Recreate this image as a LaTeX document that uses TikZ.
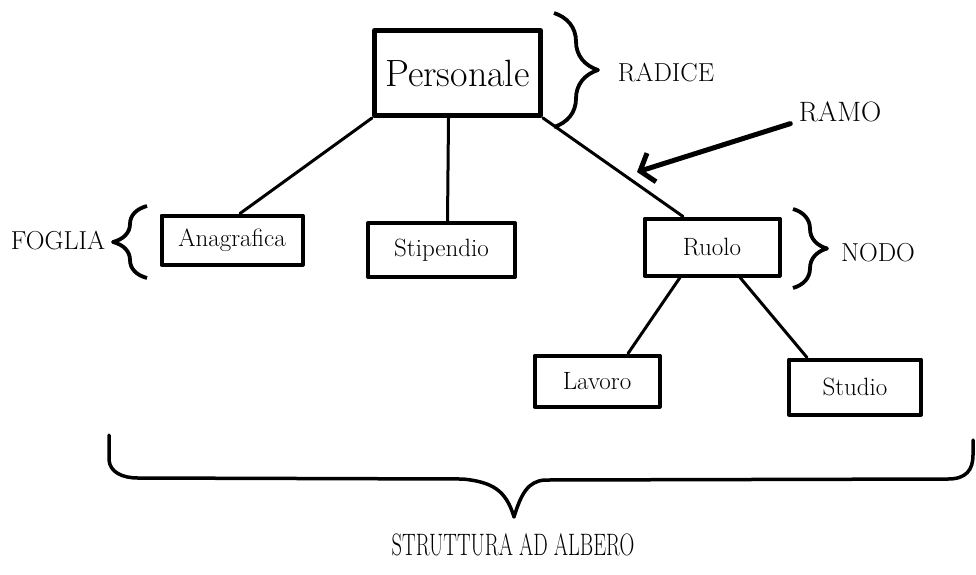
\documentclass[tikz,border=0pt]{standalone}
\usepackage{tikz}
\usetikzlibrary{arrows.meta,positioning,calc,decorations.pathreplacing}

\begin{document}
\begin{tikzpicture}[x=1pt, y=-1pt, line width=3pt, line join=round, line cap=round]
\tikzstyle{box}=[draw=black, line width=4pt, fill=white, inner sep=0pt, font=\fontsize{25}{30}\selectfont]
\tikzstyle{tag}=[inner sep=0pt, font=\fontsize{26}{31}\selectfont]
\tikzstyle{curly}=[decorate, line width=3.8pt, line cap=butt]
\useasboundingbox (0,0) rectangle (976,574);
% nodi dell'albero
\node[box, line width=5pt, minimum width=166pt, minimum height=85pt, font=\fontsize{38}{45}\selectfont] (pers) at (457.5,73) {Personale};
\node[box, minimum width=141pt, minimum height=49pt]  (anag)   at (232,240) {Anagrafica};
\node[box, minimum width=147pt, minimum height=54pt]  (stip)   at (441.5,250) {Stipendio};
\node[box, minimum width=135pt, minimum height=57pt]  (ruolo)  at (712,247) {Ruolo};
\node[box, minimum width=125pt, minimum height=51pt]  (lavoro) at (597,381) {Lavoro};
\node[box, minimum width=132pt, minimum height=55pt]  (studio) at (855,387) {Studio};
% rami
\draw (pers.south west) -- ([xshift=8pt]anag.north);
\draw ([xshift=-9pt]pers.south) -- ([xshift=6pt]stip.north);
\draw (pers.south east) -- ([xshift=-29pt]ruolo.north);
\draw ([xshift=-32pt]ruolo.south) -- ([xshift=31pt]lavoro.north);
\draw ([xshift=28pt]ruolo.south) -- ([xshift=-48pt]studio.north);
% etichette
\node[tag] (radice) at (666,73)  {RADICE};
\node[tag] (foglia) at (58,241)  {FOGLIA};
\node[tag] (nodo)   at (878,253) {NODO};
\node[tag, font=\fontsize{28}{33}\selectfont] (ramo) at (840,112) {RAMO};
\node[tag, font=\fontsize{31}{36}\selectfont] (titolo) at (513,545) {\scalebox{0.66}[1]{STRUTTURA AD ALBERO}};
\coordinate (ramotip) at (637,172);
\draw[line width=5pt, -{Straight Barb[length=12pt, width=30pt]}] ([xshift=-7pt]ramo.south west) -- (ramotip);
% graffe
\draw[curly, decoration={brace, amplitude=44pt}] (554,13) -- (554,127);
\draw[curly, decoration={brace, amplitude=34pt}] (147,278) -- (147,206);
\draw[curly, decoration={brace, amplitude=34pt}] (793,209) -- (793,288);
\draw[line width=3.5pt] (109,435) -- (109,460) .. controls (110,472) and (122,478) .. (138,478)
  -- (463,479) .. controls (492,482) and (506,490) .. (514,517)
  .. controls (521,494) and (528,481) .. (545,480) -- (948,479)
  .. controls (966,479) and (973,470) .. (973,455) -- (973,440);
\end{tikzpicture}
\end{document}
